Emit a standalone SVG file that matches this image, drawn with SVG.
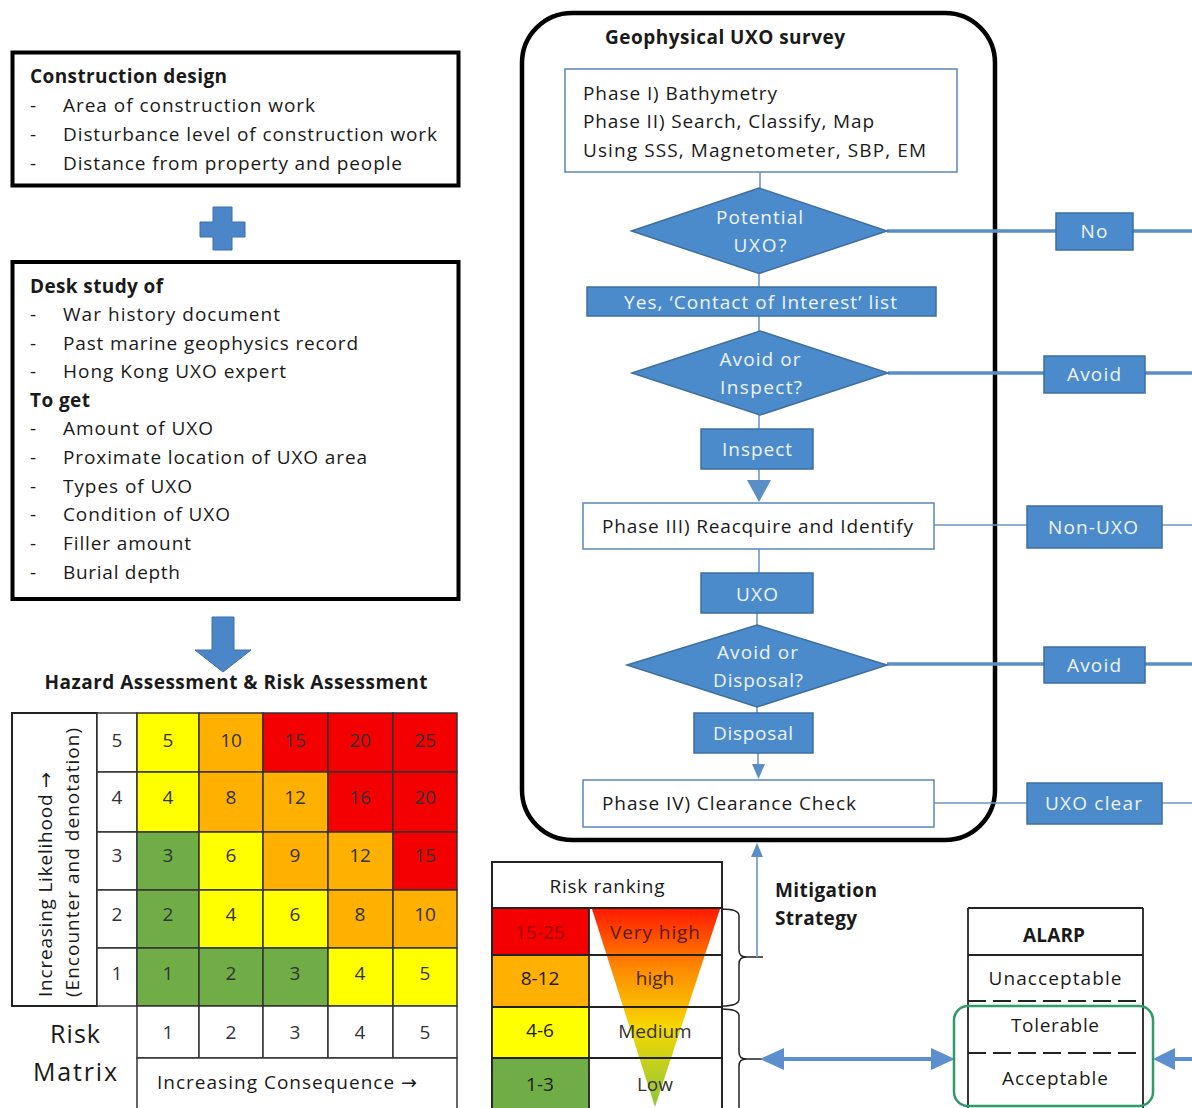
<svg xmlns="http://www.w3.org/2000/svg" width="1192" height="1108" viewBox="0 0 1192 1108">
<defs>
<style>
text{font-family:"Open Sans","DejaVu Sans",sans-serif;font-size:19px;fill:#1a1a1a}
.b{font-weight:bold}
.c{text-anchor:middle}
.w{fill:#eef4fb}
.blk{fill:none;stroke:#000;stroke-width:4}
.pbox{fill:#fff;stroke:#5b87b8;stroke-width:1.5}
.lbl{fill:#4b8bcb;stroke:#3f6fa0;stroke-width:1.5}
.thin{stroke:#6d97c5;stroke-width:1.6;fill:none}
.thick{stroke:#5b8ec7;stroke-width:3.5;fill:none}
.cell{stroke:#333;stroke-width:1.5}
.tl{stroke:#222;stroke-width:1.8;fill:none}
.Y{fill:#ffff00}.O{fill:#ffb000}.R{fill:#f40000}.G{fill:#70ad47}
.rt{fill:#a00000}
.num{font-size:19px;fill:#333}
</style>
<linearGradient id="tri" x1="0" y1="0" x2="0" y2="1">
<stop offset="0" stop-color="#ff1a00"/>
<stop offset="0.3" stop-color="#ff8a00"/>
<stop offset="0.6" stop-color="#f5d800"/>
<stop offset="1" stop-color="#8cc63f"/>
</linearGradient>
</defs>

<!-- Construction design -->
<g id="construction-design">
<rect class="blk" x="12.5" y="52.5" width="446" height="133"/>
<text class="b" x="30" y="83" textLength="197">Construction design</text>
<text x="30" y="112">-</text><text x="63" y="112" textLength="252">Area of construction work</text>
<text x="30" y="141">-</text><text x="63" y="141" textLength="374">Disturbance level of construction work</text>
<text x="30" y="170">-</text><text x="63" y="170" textLength="339">Distance from property and people</text>
</g>

<g id="plus">
<path d="M213,207 H232 V222 H245 V237 H232 V250 H213 V237 H200 V222 H213 Z" fill="#4a86c8" stroke="#3c6ea8" stroke-width="1"/>
</g>

<g id="desk-study">
<rect class="blk" x="12.5" y="262" width="446" height="337"/>
<text class="b" x="30" y="293" textLength="133">Desk study of</text>
<text x="30" y="321">-</text><text x="63" y="321" textLength="217">War history document</text>
<text x="30" y="350">-</text><text x="63" y="350" textLength="295">Past marine geophysics record</text>
<text x="30" y="378">-</text><text x="63" y="378" textLength="223">Hong Kong UXO expert</text>
<text class="b" x="30" y="407" textLength="60">To get</text>
<text x="30" y="435">-</text><text x="63" y="435" textLength="150">Amount of UXO</text>
<text x="30" y="464">-</text><text x="63" y="464" textLength="304">Proximate location of UXO area</text>
<text x="30" y="493">-</text><text x="63" y="493" textLength="129">Types of UXO</text>
<text x="30" y="521">-</text><text x="63" y="521" textLength="167">Condition of UXO</text>
<text x="30" y="550">-</text><text x="63" y="550" textLength="128">Filler amount</text>
<text x="30" y="579">-</text><text x="63" y="579" textLength="117">Burial depth</text>
</g>

<g id="down-arrow">
<path d="M212,617 H234 V650 H251 L223,672 L195,650 H212 Z" fill="#4a86c8" stroke="#3c6ea8" stroke-width="1"/>
</g>

<g id="risk-matrix">
<text class="b c" x="236" y="689" textLength="383">Hazard Assessment &amp; Risk Assessment</text>
<!-- label cell -->
<rect x="12" y="713" width="85" height="293" fill="#fff" stroke="#222" stroke-width="2"/>
<g transform="translate(52,997) rotate(-90)"><text x="0" y="0" textLength="225">Increasing Likelihood →</text></g>
<g transform="translate(79,997) rotate(-90)"><text x="0" y="0" textLength="269">(Encounter and denotation)</text></g>
<!-- likelihood numbers -->
<g fill="#fff">
<rect class="cell" x="97" y="713" width="40" height="59"/>
<rect class="cell" x="97" y="772" width="40" height="60"/>
<rect class="cell" x="97" y="832" width="40" height="58"/>
<rect class="cell" x="97" y="890" width="40" height="58"/>
<rect class="cell" x="97" y="948" width="40" height="58"/>
</g>
<text class="c num" x="117" y="747">5</text>
<text class="c num" x="117" y="804">4</text>
<text class="c num" x="117" y="862">3</text>
<text class="c num" x="117" y="921">2</text>
<text class="c num" x="117" y="980">1</text>
<!-- colored cells -->
<g>
<rect class="cell Y" x="137" y="713" width="62" height="59"/>
<rect class="cell O" x="199" y="713" width="64" height="59"/>
<rect class="cell R" x="263" y="713" width="65" height="59"/>
<rect class="cell R" x="328" y="713" width="65" height="59"/>
<rect class="cell R" x="393" y="713" width="64" height="59"/>
<rect class="cell Y" x="137" y="772" width="62" height="60"/>
<rect class="cell O" x="199" y="772" width="64" height="60"/>
<rect class="cell O" x="263" y="772" width="65" height="60"/>
<rect class="cell R" x="328" y="772" width="65" height="60"/>
<rect class="cell R" x="393" y="772" width="64" height="60"/>
<rect class="cell G" x="137" y="832" width="62" height="58"/>
<rect class="cell Y" x="199" y="832" width="64" height="58"/>
<rect class="cell O" x="263" y="832" width="65" height="58"/>
<rect class="cell O" x="328" y="832" width="65" height="58"/>
<rect class="cell R" x="393" y="832" width="64" height="58"/>
<rect class="cell G" x="137" y="890" width="62" height="58"/>
<rect class="cell Y" x="199" y="890" width="64" height="58"/>
<rect class="cell Y" x="263" y="890" width="65" height="58"/>
<rect class="cell O" x="328" y="890" width="65" height="58"/>
<rect class="cell O" x="393" y="890" width="64" height="58"/>
<rect class="cell G" x="137" y="948" width="62" height="58"/>
<rect class="cell G" x="199" y="948" width="64" height="58"/>
<rect class="cell G" x="263" y="948" width="65" height="58"/>
<rect class="cell Y" x="328" y="948" width="65" height="58"/>
<rect class="cell Y" x="393" y="948" width="64" height="58"/>
</g>
<g class="c">
<text class="c num" x="168" y="747">5</text><text class="c num" x="231" y="747">10</text><text class="c num rt" x="295" y="747">15</text><text class="c num rt" x="360" y="747">20</text><text class="c num rt" x="425" y="747">25</text>
<text class="c num" x="168" y="804">4</text><text class="c num" x="231" y="804">8</text><text class="c num" x="295" y="804">12</text><text class="c num rt" x="360" y="804">16</text><text class="c num rt" x="425" y="804">20</text>
<text class="c num" x="168" y="862">3</text><text class="c num" x="231" y="862">6</text><text class="c num" x="295" y="862">9</text><text class="c num" x="360" y="862">12</text><text class="c num rt" x="425" y="862">15</text>
<text class="c num" x="168" y="921">2</text><text class="c num" x="231" y="921">4</text><text class="c num" x="295" y="921">6</text><text class="c num" x="360" y="921">8</text><text class="c num" x="425" y="921">10</text>
<text class="c num" x="168" y="980">1</text><text class="c num" x="231" y="980">2</text><text class="c num" x="295" y="980">3</text><text class="c num" x="360" y="980">4</text><text class="c num" x="425" y="980">5</text>
</g>
<!-- consequence row -->
<g fill="#fff">
<rect class="cell" x="137" y="1006" width="62" height="52"/>
<rect class="cell" x="199" y="1006" width="64" height="52"/>
<rect class="cell" x="263" y="1006" width="65" height="52"/>
<rect class="cell" x="328" y="1006" width="65" height="52"/>
<rect class="cell" x="393" y="1006" width="64" height="52"/>
<rect class="cell" x="137" y="1058" width="320" height="56"/>
</g>
<text class="c num" x="168" y="1039">1</text><text class="c num" x="231" y="1039">2</text><text class="c num" x="295" y="1039">3</text><text class="c num" x="360" y="1039">4</text><text class="c num" x="425" y="1039">5</text>
<text x="157" y="1089" textLength="260">Increasing Consequence →</text>
<text class="c" x="75" y="1043" style="font-size:25px" textLength="50">Risk</text>
<text class="c" x="75" y="1081" style="font-size:25px" textLength="84">Matrix</text>
</g>

<!-- Flowchart container -->
<g id="uxo-survey">
<rect x="522" y="13" width="473" height="827" rx="50" ry="50" fill="none" stroke="#000" stroke-width="4.5"/>
<text class="b c" x="725" y="44" textLength="240">Geophysical UXO survey</text>
</g>

<g id="phase1">
<rect class="pbox" x="565" y="69" width="392" height="103"/>
<text x="583" y="100" textLength="194">Phase I) Bathymetry</text>
<text x="583" y="128" textLength="291">Phase II) Search, Classify, Map</text>
<text x="583" y="157" textLength="343">Using SSS, Magnetometer, SBP, EM</text>
</g>

<g id="connectors">
<line class="thin" x1="760" y1="172" x2="760" y2="188"/>
<line class="thin" x1="759" y1="273" x2="759" y2="287"/>
<line class="thin" x1="759" y1="316" x2="759" y2="331"/>
<line class="thin" x1="759" y1="415" x2="759" y2="429"/>
<line class="thin" x1="759" y1="469" x2="759" y2="482"/>
<polygon points="747,480 771,480 759,502" fill="#5b8ec7"/>
<line class="thin" x1="759" y1="549" x2="759" y2="573"/>
<line class="thin" x1="757" y1="613" x2="757" y2="625"/>
<line class="thin" x1="757" y1="707" x2="757" y2="713"/>
<line class="thin" x1="758" y1="753" x2="758" y2="766"/>
<polygon points="752,764 765,764 758.5,779" fill="#5b8ec7"/>
<line class="thick" x1="887" y1="231" x2="1192" y2="231"/>
<line class="thick" x1="888" y1="373" x2="1192" y2="373"/>
<line class="thin" x1="934" y1="525" x2="1192" y2="525"/>
<line class="thick" x1="887" y1="664" x2="1192" y2="664"/>
<line class="thin" x1="934" y1="803" x2="1192" y2="803"/>
<!-- mitigation arrow -->
<line x1="743" y1="957" x2="763" y2="957" stroke="#222" stroke-width="1.5"/>
<line x1="757" y1="957" x2="757" y2="855" stroke="#7b9fc9" stroke-width="1.8"/>
<polygon points="757,843 751,857 763,857" fill="#5b8ec7"/>
<!-- double arrow -->
<line x1="743" y1="1059" x2="762" y2="1059" stroke="#222" stroke-width="1.5"/>
<line x1="780" y1="1059" x2="935" y2="1059" stroke="#5b8fd0" stroke-width="4"/>
<polygon points="760,1059 784,1048 784,1070" fill="#5b8fd0"/>
<polygon points="955,1059 931,1048 931,1070" fill="#5b8fd0"/>
<!-- right incoming arrow -->
<line x1="1172" y1="1059" x2="1192" y2="1059" stroke="#5b8fd0" stroke-width="4"/>
<polygon points="1153,1059 1175,1048 1175,1070" fill="#5b8fd0"/>
</g>

<g id="d-potential">
<polygon class="lbl" points="631.5,231 759,188 887,231 759,273.5"/>
<text class="c w" x="759.5" y="224" textLength="87">Potential</text>
<text class="c w" x="760" y="252" textLength="53">UXO?</text>
</g>

<g id="l-yes">
<rect class="lbl" x="587" y="287" width="349" height="29"/>
<text class="c w" x="760.5" y="309" textLength="273">Yes, ‘Contact of Interest’ list</text>
</g>

<g id="d-avoid-inspect">
<polygon class="lbl" points="632,373 760,331 888,373 760,415"/>
<text class="c w" x="760" y="366" textLength="81">Avoid or</text>
<text class="c w" x="761" y="394" textLength="82">Inspect?</text>
</g>

<g id="l-inspect">
<rect class="lbl" x="701" y="429" width="112" height="40"/>
<text class="c w" x="757" y="456" textLength="70">Inspect</text>
</g>

<g id="phase3">
<rect class="pbox" x="583" y="503" width="351" height="46"/>
<text x="602" y="533" textLength="311">Phase III) Reacquire and Identify</text>
</g>

<g id="l-uxo">
<rect class="lbl" x="701" y="573" width="112" height="40"/>
<text class="c w" x="757" y="601" textLength="42">UXO</text>
</g>

<g id="d-avoid-disposal">
<polygon class="lbl" points="627,665 757,625 887,665 757,707"/>
<text class="c w" x="757.5" y="659" textLength="81">Avoid or</text>
<text class="c w" x="758" y="687" textLength="90">Disposal?</text>
</g>

<g id="l-disposal">
<rect class="lbl" x="694" y="713" width="119" height="40"/>
<text class="c w" x="753" y="740" textLength="80">Disposal</text>
</g>

<g id="phase4">
<rect class="pbox" x="583" y="780" width="351" height="47"/>
<text x="602" y="810" textLength="254">Phase IV) Clearance Check</text>
</g>

<g id="l-no">
<rect class="lbl" x="1056" y="213" width="77" height="37"/>
<text class="c w" x="1094" y="238" textLength="27">No</text>
</g>
<g id="l-avoid1">
<rect class="lbl" x="1044" y="356" width="101" height="37"/>
<text class="c w" x="1094" y="381" textLength="54">Avoid</text>
</g>
<g id="l-nonuxo">
<rect class="lbl" x="1027" y="506" width="135" height="42"/>
<text class="c w" x="1093" y="534" textLength="90">Non-UXO</text>
</g>
<g id="l-avoid2">
<rect class="lbl" x="1044" y="647" width="101" height="36"/>
<text class="c w" x="1094" y="672" textLength="54">Avoid</text>
</g>
<g id="l-uxoclear">
<rect class="lbl" x="1027" y="783" width="135" height="41"/>
<text class="c w" x="1093.5" y="810" textLength="97">UXO clear</text>
</g>

<g id="risk-ranking">
<rect x="492" y="862" width="230" height="252" fill="#fff" stroke="#222" stroke-width="1.8"/>
<rect x="492" y="908" width="97" height="47" class="R"/>
<rect x="492" y="955" width="97" height="52" class="O"/>
<rect x="492" y="1007" width="97" height="51" class="Y"/>
<rect x="492" y="1058" width="97" height="56" class="G"/>
<polygon points="592,909 720,909 655,1107" fill="url(#tri)"/>
<line class="tl" x1="492" y1="908" x2="722" y2="908"/>
<line class="tl" x1="492" y1="955" x2="722" y2="955"/>
<line class="tl" x1="492" y1="1007" x2="722" y2="1007"/>
<line class="tl" x1="492" y1="1058" x2="722" y2="1058"/>
<line class="tl" x1="589" y1="908" x2="589" y2="1110"/>
<rect x="492" y="862" width="230" height="252" fill="none" stroke="#222" stroke-width="1.8"/>
<text class="c" x="607" y="893" textLength="115">Risk ranking</text>
<text class="c rt" x="540" y="939">15-25</text>
<text class="c" x="540" y="985">8-12</text>
<text class="c" x="540" y="1037">4-6</text>
<text class="c" x="540" y="1091">1-3</text>
<text class="c" x="655" y="939" style="fill:#5a1a00" textLength="90">Very high</text>
<text class="c" x="655" y="985" style="fill:#4a2a00">high</text>
<text class="c" x="655" y="1038" style="fill:#333">Medium</text>
<text class="c" x="655" y="1091" style="fill:#333">Low</text>
</g>

<g id="braces" fill="none" stroke="#222" stroke-width="1.5">
<path d="M722,909 Q739,909 739,916 V950 Q739,957 746,957 Q739,957 739,964 V999 Q739,1006 722,1006"/>
<path d="M722,1009 Q739,1009 739,1016 V1052 Q739,1059 746,1059 Q739,1059 739,1066 V1112"/>
</g>

<g id="mitigation">
<text class="b" x="775" y="897" textLength="102">Mitigation</text>
<text class="b" x="775" y="925" textLength="82">Strategy</text>
</g>

<g id="alarp">
<line class="tl" x1="968" y1="908" x2="1143" y2="908"/>
<line class="tl" x1="968" y1="908" x2="968" y2="1110"/>
<line class="tl" x1="1143" y1="908" x2="1143" y2="1110"/>
<line class="tl" x1="968" y1="955" x2="1143" y2="955"/>
<line class="tl" x1="968" y1="1001" x2="1143" y2="1001" stroke-dasharray="18,7"/>
<line class="tl" x1="968" y1="1053" x2="1143" y2="1053" stroke-dasharray="18,7"/>
<line class="tl" x1="968" y1="1106" x2="1143" y2="1106"/>
<rect x="954" y="1006" width="199" height="100" rx="14" ry="14" fill="none" stroke="#2f9a6a" stroke-width="2.5"/>
<text class="b c" x="1054" y="942" textLength="62">ALARP</text>
<text class="c" x="1055" y="985" textLength="133">Unacceptable</text>
<text class="c" x="1055" y="1032" textLength="88">Tolerable</text>
<text class="c" x="1055" y="1085" textLength="106">Acceptable</text>
</g>
</svg>
